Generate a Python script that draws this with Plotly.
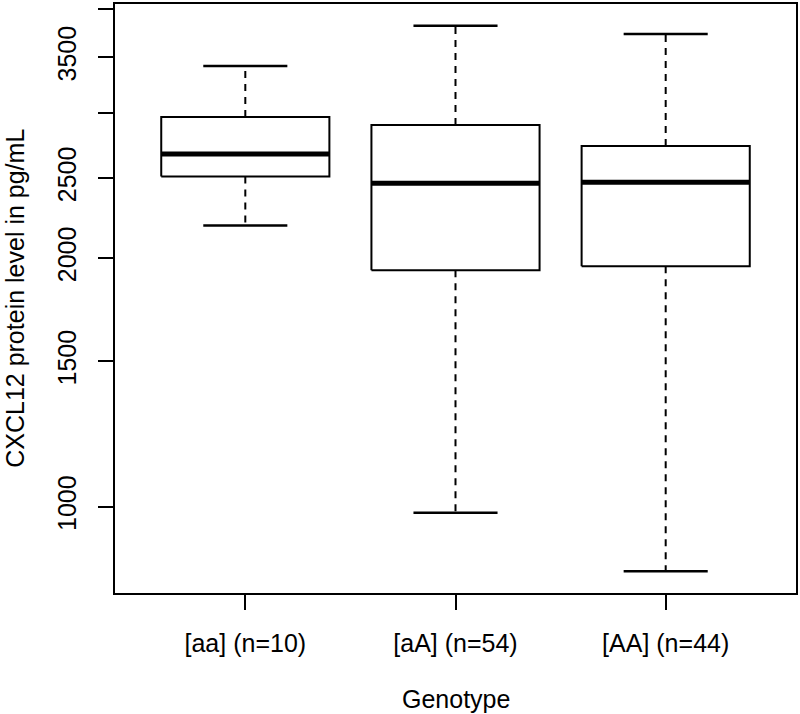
import plotly.graph_objects as go
import math

# ---- data ----
categories = ["[aa] (n=10)", "[aA] (n=54)", "[AA] (n=44)"]
lower_whisker = [2191, 984, 836]
q1_values = [2512, 1934, 1955]
median_values = [2673, 2464, 2471]
q3_values = [2964, 2899, 2735]
upper_whisker = [3418, 3822, 3735]

y_tick_values = [1000, 1500, 2000, 2500, 3000, 3500, 4000]
y_tick_labels = ["1000", "1500", "2000", "2500", "", "3500", ""]

x_title = "Genotype"
y_title = "CXCL12 protein level in pg/mL"

# ---- style ----
BOX_HALF = 0.4
CAP_HALF = 0.2
FONT = "Liberation Sans, Arial, Helvetica, sans-serif"
FS = 25

fig = go.Figure()

for i, cat in enumerate(categories):
    xc = i + 1
    lo, a, m, b, hi = lower_whisker[i], q1_values[i], median_values[i], q3_values[i], upper_whisker[i]
    # whiskers (dashed)
    fig.add_trace(go.Scatter(x=[xc, xc, None, xc, xc], y=[b, hi, None, a, lo], mode="lines",
                             line=dict(color="black", width=2, dash="7px,6px"),
                             hoverinfo="skip", showlegend=False))
    # staples
    fig.add_trace(go.Scatter(x=[xc - CAP_HALF, xc + CAP_HALF, None, xc - CAP_HALF, xc + CAP_HALF],
                             y=[hi, hi, None, lo, lo], mode="lines",
                             line=dict(color="black", width=2.5),
                             hoverinfo="skip", showlegend=False))
    # box
    fig.add_trace(go.Scatter(x=[xc - BOX_HALF, xc + BOX_HALF, xc + BOX_HALF, xc - BOX_HALF, xc - BOX_HALF],
                             y=[a, a, b, b, a], mode="lines", fill="toself", fillcolor="white",
                             line=dict(color="black", width=2),
                             hoverinfo="skip", showlegend=False))
    # median
    fig.add_trace(go.Scatter(x=[xc - BOX_HALF, xc + BOX_HALF], y=[m, m], mode="lines",
                             line=dict(color="black", width=5),
                             hoverinfo="skip", showlegend=False))

all_vals = lower_whisker + upper_whisker
lmin, lmax = math.log10(min(all_vals)), math.log10(max(all_vals))
pad = 0.04 * (lmax - lmin)

fig.update_layout(
    width=800, height=714,
    margin=dict(l=115, r=2, t=2, b=121),
    plot_bgcolor="white", paper_bgcolor="white",
    font=dict(family=FONT, size=FS, color="black"),
    xaxis=dict(range=[0.5 - 0.12, len(categories) + 0.5 + 0.12],
               tickvals=[i + 1 for i in range(len(categories))], ticktext=categories,
               showgrid=False, zeroline=False, showline=True, mirror=True,
               linecolor="black", linewidth=2, ticks="outside", ticklen=15, tickwidth=1.5,
               tickcolor="black", ticklabelstandoff=12,
               tickfont=dict(family=FONT, size=FS, color="black")),
    yaxis=dict(type="log", range=[lmin - pad, lmax + pad],
               tickvals=y_tick_values, ticktext=y_tick_labels, tickangle=-90,
               showgrid=False, zeroline=False, showline=True, mirror=True,
               linecolor="black", linewidth=2, ticks="outside", ticklen=15, tickwidth=1.5,
               tickcolor="black", ticklabelstandoff=12,
               tickfont=dict(family=FONT, size=FS, color="black")),
    annotations=[
        dict(text=x_title, xref="paper", yref="paper", x=0.5, y=-(699 - 593) / 591,
             xanchor="center", yanchor="middle", showarrow=False,
             font=dict(family=FONT, size=FS, color="black")),
        dict(text=y_title, xref="paper", yref="paper", x=-(115 - 14) / 683, y=0.5,
             xanchor="center", yanchor="middle", textangle=-90, showarrow=False,
             font=dict(family=FONT, size=FS, color="black")),
    ],
)

fig.write_html("out.html", config={"displayModeBar": False},
               post_script="document.body.style.margin='0px';document.body.style.overflow='hidden';")
